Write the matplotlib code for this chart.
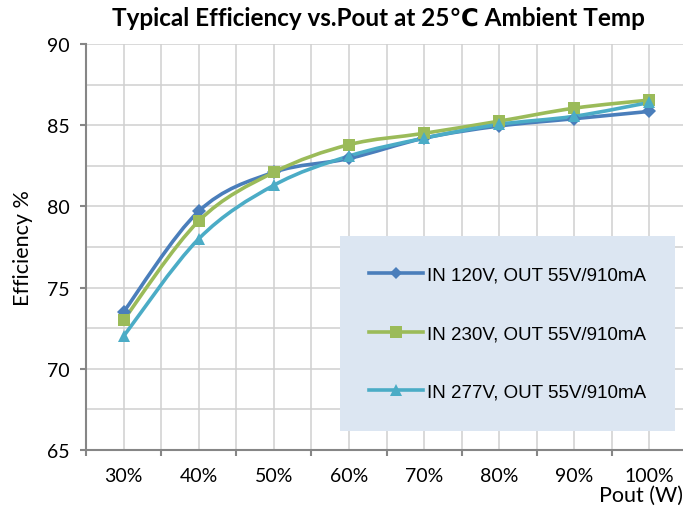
import numpy as np
import matplotlib
matplotlib.use("Agg")
import matplotlib.pyplot as plt
from matplotlib.path import Path
from matplotlib.patches import PathPatch, Rectangle
from matplotlib.lines import Line2D

categories = ["30%", "40%", "50%", "60%", "70%", "80%", "90%", "100%"]
eff_120 = [73.5, 79.7, 82.1, 82.95, 84.2, 84.95, 85.4, 85.85]
eff_230 = [73.0, 79.1, 82.1, 83.8, 84.5, 85.25, 86.05, 86.55]
eff_277 = [72.0, 78.0, 81.3, 83.1, 84.2, 85.05, 85.55, 86.4]
labels = ["IN 120V, OUT 55V/910mA", "IN 230V, OUT 55V/910mA", "IN 277V, OUT 55V/910mA"]
colors = ["#4A7EBB", "#9BBB59", "#4BACC6"]
markers = ["D", "s", "^"]
msizes = [7, 9, 9]

plt.rcParams['font.family'] = ['Lato', 'DejaVu Sans']

fig = plt.figure(figsize=(6.83, 5.10), dpi=100)
W, H = 683, 510
x0, x1, ytop, ybot = 86, 687, 45, 451
ax = fig.add_axes([x0 / W, (H - ybot) / H, (x1 - x0) / W, (ybot - ytop) / H])

x = np.arange(len(categories))


def smooth_path(xs, ys):
    pts = np.column_stack([xs, ys]).astype(float)
    n = len(pts)
    verts = [pts[0]]
    codes = [Path.MOVETO]
    for i in range(n - 1):
        p0 = pts[i - 1] if i > 0 else pts[i]
        p1 = pts[i]
        p2 = pts[i + 1]
        p3 = pts[i + 2] if i + 2 < n else pts[i + 1]
        c1 = p1 + (p2 - p0) / 6.0
        c2 = p2 - (p3 - p1) / 6.0
        verts += [c1, c2, p2]
        codes += [Path.CURVE4] * 3
    return Path(verts, codes)


for ys, c, m, ms in zip([eff_120, eff_230, eff_277], colors, markers, msizes):
    patch = PathPatch(smooth_path(x, ys), facecolor='none', edgecolor=c,
                      lw=2.6, zorder=3, capstyle='round', joinstyle='round')
    ax.add_patch(patch)
    ax.plot(x, ys, linestyle='none', marker=m, color=c, ms=ms, zorder=4,
            markeredgewidth=0)

ax.set_xlim(-0.5, 7.5)
ax.set_ylim(65, 90)

# grid
ax.set_yticks(np.arange(65, 91, 5))
ax.set_yticks(np.arange(67.5, 90, 5), minor=True)
ax.set_xticks(np.arange(-0.5, 8, 1))
ax.set_xticks(x, minor=True)
ax.set_xticklabels([""] * len(np.arange(-0.5, 8, 1)))
ax.set_xticklabels(categories, minor=True)
ax.grid(True, which='both', color='#D0D0D0', lw=1.1, zorder=0)
ax.set_axisbelow(True)

for s in ['top', 'right']:
    ax.spines[s].set_visible(False)
for s in ['left', 'bottom']:
    ax.spines[s].set_color('#868686')
    ax.spines[s].set_linewidth(1.5)

ax.tick_params(axis='y', which='major', direction='out', length=4.5, width=1.5,
               color='#868686', labelsize=14, pad=7)
ax.tick_params(axis='y', which='minor', length=0)
ax.tick_params(axis='x', which='major', direction='out', length=4.5, width=1.5,
               color='#868686')
ax.tick_params(axis='x', which='minor', length=0, labelsize=14, pad=12)

# legend box
lx0, lx1, ly0, ly1 = 340, 675, 237, 432
ax.add_patch(Rectangle(((lx0 - x0) / (x1 - x0), (ybot - ly1) / (ybot - ytop)),
                       (lx1 - lx0) / (x1 - x0), (ly1 - ly0) / (ybot - ytop),
                       transform=ax.transAxes, facecolor='#DCE6F2',
                       edgecolor='none', zorder=5))
handles = [Line2D([], [], color=c, lw=2.6, marker=m, ms=ms * 0.9, markeredgewidth=0)
           for c, m, ms in zip(colors, markers, msizes)]
leg = ax.legend(handles, labels, loc='center', frameon=False,
                prop={'family': ['Liberation Sans'], 'size': 13.5},
                labelspacing=2.2, handlelength=2.9, handletextpad=0.2)
leg.set_bbox_to_anchor(((lx0 + lx1) / 2 / W, (H - (ly0 + ly1) / 2) / H), transform=fig.transFigure)
leg.set_zorder(6)

fig.text(378 / W, 1 - 19 / H, "Typical Efficiency vs.Pout at 25\u2103 Ambient Temp",
         ha='center', va='center', fontsize=17.5, fontweight='bold')
fig.text(23 / W, 1 - 248 / H, "Efficiency %", rotation=90, ha='center', va='center',
         fontsize=15.5)
fig.text(683 / W, 1 - 496 / H, "Pout (W)", ha='right', va='center', fontsize=15.5)

fig.savefig("out.png", dpi=100)
